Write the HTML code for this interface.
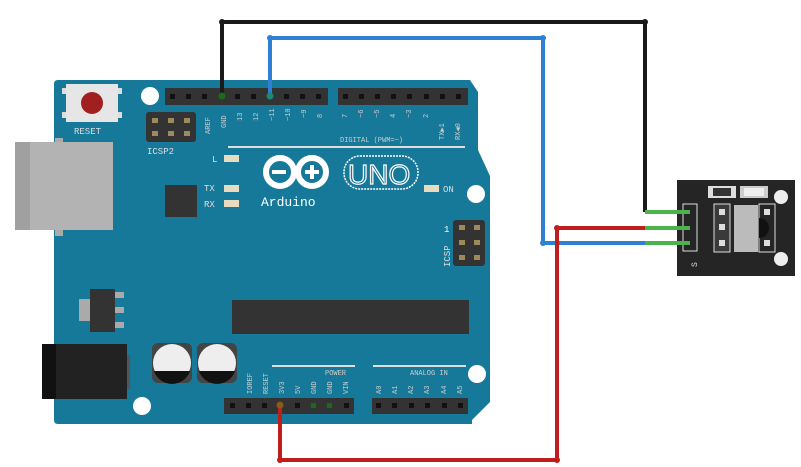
<!DOCTYPE html>
<html><head><meta charset="utf-8"><style>
html,body{margin:0;padding:0;background:#fff;}
svg{display:block;font-family:"Liberation Mono",monospace;}
</style></head><body>
<svg width="801" height="467" viewBox="0 0 801 467" xmlns="http://www.w3.org/2000/svg">
<path d="M58,80 L470,80 L478,92 L478,150 L490,176 L490,402 L472,420 L472,424 L58,424 Q54,424 54,420 L54,84 Q54,80 58,80 Z" fill="#17799a"/>
<rect x="55" y="138" width="8" height="98" fill="#aaa"/>
<rect x="15" y="142" width="98" height="88" fill="#b3b3b3"/>
<rect x="15" y="142" width="15" height="88" fill="#a0a0a0"/>
<rect x="66" y="84" width="52" height="38" fill="#e6e6e6"/>
<rect x="62" y="88" width="4" height="6" fill="#ddd"/><rect x="62" y="112" width="4" height="6" fill="#ddd"/>
<rect x="118" y="88" width="4" height="6" fill="#ddd"/><rect x="118" y="112" width="4" height="6" fill="#ddd"/>
<circle cx="92" cy="103" r="11" fill="#a11f1f"/>
<text x="74" y="134" font-size="9" fill="#ddd">RESET</text>
<circle cx="150" cy="96" r="9" fill="#fff"/>
<rect x="146" y="112" width="50" height="30" rx="3" fill="#333"/>
<g fill="#9c8a5a"><rect x="152" y="118" width="6" height="5"/><rect x="168" y="118" width="6" height="5"/><rect x="184" y="118" width="6" height="5"/><rect x="152" y="131" width="6" height="5"/><rect x="168" y="131" width="6" height="5"/><rect x="184" y="131" width="6" height="5"/></g>
<text x="147" y="154" font-size="9" fill="#ddd">ICSP2</text>
<rect x="165" y="88" width="163" height="17" fill="#333"/>
<rect x="338" y="88" width="130" height="17" fill="#333"/>
<g fill="#111">
<rect x="170" y="94" width="5" height="5"/><rect x="186" y="94" width="5" height="5"/><rect x="202" y="94" width="5" height="5"/><rect x="235" y="94" width="5" height="5"/><rect x="251" y="94" width="5" height="5"/><rect x="284" y="94" width="5" height="5"/><rect x="300" y="94" width="5" height="5"/><rect x="316" y="94" width="5" height="5"/>
<rect x="343" y="94" width="5" height="5"/><rect x="359" y="94" width="5" height="5"/><rect x="375" y="94" width="5" height="5"/><rect x="391" y="94" width="5" height="5"/><rect x="407" y="94" width="5" height="5"/><rect x="424" y="94" width="5" height="5"/><rect x="440" y="94" width="5" height="5"/><rect x="456" y="94" width="5" height="5"/>
</g>
<g font-size="7" fill="#ccc">
<text transform="translate(210,134) rotate(-90)">AREF</text>
<text transform="translate(226,128) rotate(-90)">GND</text>
<text transform="translate(242,121) rotate(-90)">13</text>
<text transform="translate(258,121) rotate(-90)">12</text>
<text transform="translate(274,121) rotate(-90)">~11</text>
<text transform="translate(290,121) rotate(-90)">~10</text>
<text transform="translate(306,118) rotate(-90)">~9</text>
<text transform="translate(322,118) rotate(-90)">8</text>
<text transform="translate(347,118) rotate(-90)">7</text><text transform="translate(363,118) rotate(-90)">~6</text><text transform="translate(379,118) rotate(-90)">~5</text><text transform="translate(395,118) rotate(-90)">4</text><text transform="translate(411,118) rotate(-90)">~3</text><text transform="translate(428,118) rotate(-90)">2</text>
<text transform="translate(444,140) rotate(-90)">TX▶1</text><text transform="translate(460,140) rotate(-90)">RX◀0</text>
<text x="340" y="142" font-size="7">DIGITAL (PWM=~)</text>
</g>
<rect x="228" y="146" width="237" height="2" fill="#ddd"/>
<text x="212" y="162" font-size="9" fill="#ddd">L</text><rect x="224" y="155" width="15" height="7" fill="#e8dcc0"/>
<text x="204" y="191" font-size="9" fill="#ddd">TX</text><rect x="224" y="185" width="15" height="7" fill="#e8dcc0"/>
<text x="204" y="207" font-size="9" fill="#ddd">RX</text><rect x="224" y="200" width="15" height="7" fill="#e8dcc0"/>
<rect x="424" y="185" width="15" height="7" fill="#e8dcc0"/><text x="443" y="192" font-size="9" fill="#ddd">ON</text>
<rect x="165" y="185" width="32" height="32" fill="#333"/>
<g fill="none" stroke="#fff" stroke-width="6"><circle cx="280" cy="172" r="14"/><circle cx="312" cy="172" r="14"/></g>
<rect x="272" y="170" width="14" height="4" fill="#fff"/><rect x="305" y="170" width="14" height="4" fill="#fff"/><rect x="310" y="165" width="4" height="14" fill="#fff"/>
<rect x="344" y="156" width="74" height="33" rx="16" fill="none" stroke="#fff" stroke-width="1.5" stroke-dasharray="2 1"/>
<text x="348" y="184" font-family="Liberation Sans,sans-serif" font-size="28" fill="none" stroke="#fff" stroke-width="1.2">UNO</text>
<text x="261" y="206" font-size="13" fill="#fff">Arduino</text>
<circle cx="476" cy="194" r="9" fill="#fff"/>
<text x="444" y="232" font-size="9" fill="#fff">1</text>
<rect x="453" y="220" width="32" height="46" rx="3" fill="#333"/>
<g fill="#9c8a5a"><rect x="459" y="225" width="6" height="5"/><rect x="474" y="225" width="6" height="5"/><rect x="459" y="240" width="6" height="5"/><rect x="474" y="240" width="6" height="5"/><rect x="459" y="255" width="6" height="5"/><rect x="474" y="255" width="6" height="5"/></g>
<text transform="translate(450,267) rotate(-90)" font-size="9" fill="#ddd">ICSP</text>
<rect x="232" y="300" width="237" height="34" fill="#333"/>
<rect x="79" y="299" width="12" height="22" fill="#aaa"/>
<rect x="90" y="289" width="25" height="43" fill="#333"/>
<g fill="#aaa"><rect x="115" y="292" width="9" height="6"/><rect x="115" y="307" width="9" height="6"/><rect x="115" y="322" width="9" height="6"/></g>
<rect x="42" y="344" width="85" height="55" fill="#222"/><rect x="42" y="344" width="14" height="55" fill="#111"/><rect x="127" y="355" width="3" height="34" fill="#555"/>
<rect x="152" y="343" width="40" height="40" rx="6" fill="#444"/><circle cx="172" cy="363" r="19" fill="#eee"/><path d="M154,371 L190,371 A19,19 0 0 1 154,371Z" fill="#111"/>
<rect x="197" y="343" width="40" height="40" rx="6" fill="#444"/><circle cx="217" cy="363" r="19" fill="#eee"/><path d="M199,371 L235,371 A19,19 0 0 1 199,371Z" fill="#111"/>
<circle cx="142" cy="406" r="9" fill="#fff"/>
<circle cx="477" cy="374" r="9" fill="#fff"/>
<rect x="272" y="365" width="83" height="2" fill="#ddd"/><rect x="373" y="365" width="93" height="2" fill="#ddd"/>
<g font-size="7" fill="#ccc">
<text x="325" y="375">POWER</text><text x="410" y="375">ANALOG IN</text>
<text transform="translate(252,394) rotate(-90)">IOREF</text><text transform="translate(268,394) rotate(-90)">RESET</text><text transform="translate(284,394) rotate(-90)">3V3</text><text transform="translate(300,394) rotate(-90)">5V</text><text transform="translate(316,394) rotate(-90)">GND</text><text transform="translate(332,394) rotate(-90)">GND</text><text transform="translate(348,394) rotate(-90)">VIN</text>
<text transform="translate(381,394) rotate(-90)">A0</text><text transform="translate(397,394) rotate(-90)">A1</text><text transform="translate(413,394) rotate(-90)">A2</text><text transform="translate(429,394) rotate(-90)">A3</text><text transform="translate(446,394) rotate(-90)">A4</text><text transform="translate(462,394) rotate(-90)">A5</text>
</g>
<rect x="224" y="398" width="130" height="16" fill="#333"/><rect x="372" y="398" width="96" height="16" fill="#333"/>
<g fill="#111">
<rect x="230" y="403" width="5" height="5"/><rect x="246" y="403" width="5" height="5"/><rect x="262" y="403" width="5" height="5"/><rect x="295" y="403" width="5" height="5"/><rect x="344" y="403" width="5" height="5"/>
<rect x="376" y="403" width="5" height="5"/><rect x="392" y="403" width="5" height="5"/><rect x="409" y="403" width="5" height="5"/><rect x="425" y="403" width="5" height="5"/><rect x="442" y="403" width="5" height="5"/><rect x="458" y="403" width="5" height="5"/>
</g>
<rect x="311" y="403" width="5" height="5" fill="#1a6a1a"/><rect x="327" y="403" width="5" height="5" fill="#1a6a1a"/>
<rect x="677" y="180" width="118" height="96" fill="#252525"/>
<rect x="708" y="186" width="28" height="12" fill="#ddd"/><rect x="713" y="188" width="18" height="8" fill="#333"/>
<rect x="740" y="186" width="28" height="12" fill="#ccc"/><rect x="744" y="188" width="20" height="8" fill="#eee"/>
<circle cx="781" cy="197" r="7" fill="#eee"/><circle cx="781" cy="259" r="7" fill="#eee"/>
<rect x="683" y="204" width="14" height="47" fill="none" stroke="#ddd" stroke-width="1"/>
<rect x="714" y="204" width="16" height="48" fill="#3a3a3a" stroke="#ddd" stroke-width="1"/>
<rect x="734" y="205" width="24" height="47" fill="#bbb"/>
<rect x="759" y="204" width="16" height="48" fill="none" stroke="#ddd" stroke-width="1"/>
<path d="M759,218 A10,10 0 0 1 759,238 Z" fill="#111"/>
<g fill="#ddd"><rect x="719" y="209" width="6" height="6"/><rect x="719" y="224" width="6" height="6"/><rect x="719" y="240" width="6" height="6"/><rect x="764" y="209" width="6" height="6"/><rect x="764" y="240" width="6" height="6"/></g>
<text transform="translate(697,267) rotate(-90)" font-size="8" fill="#ddd">S</text>
<g fill="none" stroke-width="4" stroke-linejoin="round">
<polyline points="222,96 222,22 645,22 645,212" stroke="#1a1a1a"/>
<polyline points="270,96 270,38 543,38 543,243 645,243" stroke="#2f7fd3"/>
<polyline points="280,405 280,460 557,460 557,228 645,228" stroke="#c01d1d"/>
<g stroke="#4cb34c"><line x1="645" y1="212" x2="690" y2="212"/><line x1="645" y1="228" x2="690" y2="228"/><line x1="645" y1="243" x2="690" y2="243"/></g>
</g>
<g><circle cx="222" cy="96" r="3.5" fill="#1c6b1c"/><circle cx="270" cy="96" r="3.5" fill="#1c8b6b"/><circle cx="280" cy="405" r="3.5" fill="#8b5a1a"/>
<circle cx="645" cy="22" r="3" fill="#1a1a1a"/><circle cx="543" cy="38" r="3" fill="#2f7fd3"/><circle cx="543" cy="243" r="3" fill="#2f7fd3"/><circle cx="557" cy="228" r="3" fill="#c01d1d"/><circle cx="557" cy="460" r="3" fill="#c01d1d"/><circle cx="280" cy="460" r="3" fill="#c01d1d"/><circle cx="270" cy="38" r="3" fill="#2f7fd3"/><circle cx="222" cy="22" r="3" fill="#1a1a1a"/></g>
</svg>
</body></html>
